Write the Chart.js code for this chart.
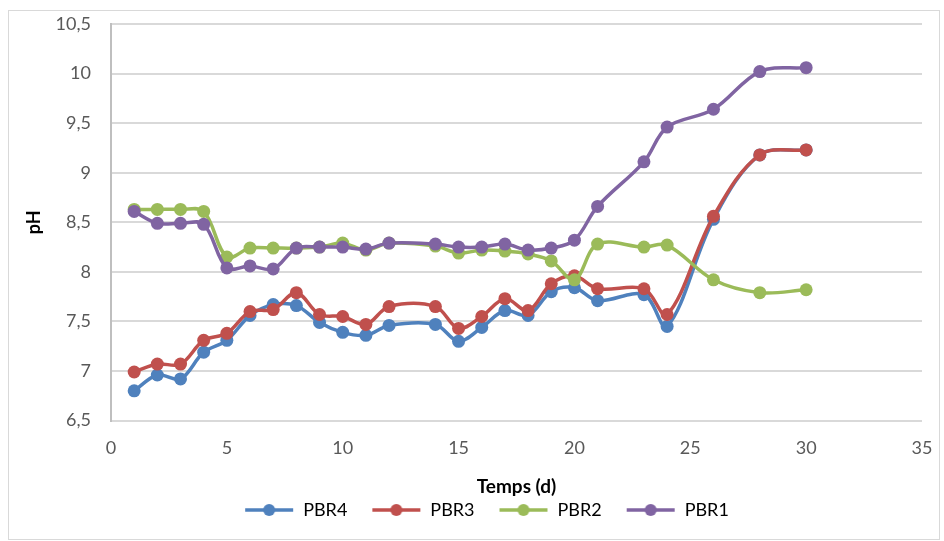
<!DOCTYPE html>
<html>
<head>
<meta charset="utf-8">
<script src="https://cdn.jsdelivr.net/npm/chart.js@4"></script>
<style>
  body { margin: 0; background: #fff; }
  #wrap { position: absolute; left: 8px; top: 10px; width: 930px; height: 528px; border: 1px solid #d9d9d9; }
</style>
</head>
<body>
<div id="wrap"><canvas id="phChart"></canvas></div>
<script>
// pH over time
const days = [1, 2, 3, 4, 5, 6, 7, 8, 9, 10, 11, 12, 14, 15, 16, 17, 18, 19, 20, 21, 23, 24, 26, 28, 30];
const pbr4 = [6.80, 6.96, 6.92, 7.19, 7.31, 7.56, 7.67, 7.66, 7.49, 7.39, 7.36, 7.46, 7.47, 7.30, 7.44, 7.61, 7.56, 7.80, 7.84, 7.71, 7.77, 7.45, 8.53, 9.18, 9.23];
const pbr3 = [6.99, 7.07, 7.07, 7.31, 7.38, 7.60, 7.62, 7.79, 7.57, 7.55, 7.47, 7.65, 7.65, 7.43, 7.55, 7.73, 7.61, 7.88, 7.96, 7.83, 7.83, 7.57, 8.56, 9.18, 9.23];
const pbr2 = [8.63, 8.63, 8.63, 8.61, 8.15, 8.24, 8.24, 8.24, 8.25, 8.29, 8.22, 8.29, 8.26, 8.19, 8.22, 8.21, 8.18, 8.11, 7.92, 8.28, 8.25, 8.27, 7.92, 7.79, 7.82];
const pbr1 = [8.61, 8.49, 8.49, 8.48, 8.04, 8.06, 8.03, 8.24, 8.25, 8.25, 8.23, 8.29, 8.28, 8.25, 8.25, 8.28, 8.22, 8.24, 8.32, 8.66, 9.11, 9.46, 9.64, 10.02, 10.06];
const yTicks = [6.5, 7, 7.5, 8, 8.5, 9, 9.5, 10, 10.5];

const seriesNames = ['PBR4', 'PBR3', 'PBR2', 'PBR1'];
const seriesValues = [pbr4, pbr3, pbr2, pbr1];
const seriesColors = ['#4f81bd', '#c0504d', '#9bbb59', '#8064a2'];

const FONT = 'Lato, "Open Sans", sans-serif';

// line+dot legend icon, with some empty room on the left as item spacing
function legendIcon(color) {
  const c = document.createElement('canvas');
  c.width = 60; c.height = 14;
  const g = c.getContext('2d');
  g.strokeStyle = color;
  g.lineWidth = 3.5;
  g.beginPath(); g.moveTo(11, 7); g.lineTo(59, 7); g.stroke();
  g.fillStyle = color;
  g.beginPath(); g.arc(35, 7, 6, 0, Math.PI * 2); g.fill();
  return c;
}

const datasets = seriesNames.map((name, i) => ({
  label: name,
  data: days.map((d, k) => ({ x: d, y: seriesValues[i][k] })),
  borderColor: seriesColors[i],
  backgroundColor: seriesColors[i],
  borderWidth: 3.5,
  pointRadius: 6.5,
  pointHoverRadius: 6.5,
  pointBorderWidth: 0,
  tension: 0.35,
  order: seriesNames.length - i
}));

// Excel centres the legend a bit right of the canvas centre
const shiftLegend = {
  id: 'shiftLegend',
  afterLayout(chart) {
    chart.legend.left += 16;
    chart.legend.right += 16;
  }
};

new Chart(document.getElementById('phChart').getContext('2d'), {
  type: 'line',
  data: { datasets: datasets },
  plugins: [shiftLegend],
  options: {
    responsive: true,
    maintainAspectRatio: false,
    animation: false,
    layout: { padding: { left: 0, right: 17, top: 13, bottom: 10 } },
    scales: {
      x: {
        type: 'linear',
        min: 0,
        max: 35,
        afterFit: function(axis) { axis.paddingLeft = 0; axis.paddingRight = 0; },
        ticks: { stepSize: 5, color: '#595959', font: { family: FONT, size: 18 }, padding: 17 },
        grid: { display: false, drawTicks: false },
        border: { display: false },
        title: { display: true, text: 'Temps (d)', color: '#000', font: { family: FONT, size: 19, weight: 'bold' }, padding: { top: -1, bottom: -11 } }
      },
      y: {
        min: 6.5,
        max: 10.5,
        afterBuildTicks: function(axis) { axis.ticks = yTicks.map(v => ({ value: v })); },
        afterFit: function(axis) { axis.width = 102; axis.paddingTop = 0; axis.paddingBottom = 0; },
        ticks: {
          color: '#595959',
          font: { family: FONT, size: 18 },
          padding: 20,
          callback: function(v) { return String(v).replace('.', ','); }
        },
        grid: { color: '#d9d9d9', lineWidth: 2, drawTicks: false },
        border: { display: true, color: '#bfbfbf', width: 2 },
        title: { display: true, text: 'pH', color: '#000', font: { family: FONT, size: 18, weight: 'bold' }, padding: { top: 14, bottom: 0 } }
      }
    },
    plugins: {
      legend: {
        position: 'bottom',
        labels: {
          color: '#000',
          font: { family: FONT, size: 18 },
          usePointStyle: true,
          pointStyleWidth: 60,
          boxHeight: 14,
          padding: 14,
          generateLabels: function(chart) {
            return chart.data.datasets.map((ds, i) => ({
              text: ds.label,
              pointStyle: legendIcon(ds.borderColor),
              fillStyle: ds.borderColor,
              strokeStyle: ds.borderColor,
              lineWidth: 0,
              hidden: false,
              datasetIndex: i,
              fontColor: '#000'
            }));
          }
        }
      },
      tooltip: { enabled: false }
    }
  }
});
</script>
</body>
</html>
